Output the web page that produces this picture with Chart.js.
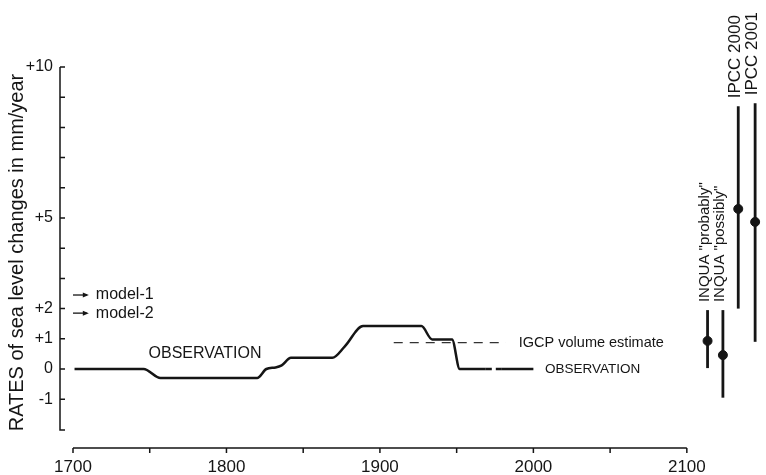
<!DOCTYPE html>
<html>
<head>
<meta charset="utf-8">
<script src="https://cdn.jsdelivr.net/npm/chart.js@4/dist/chart.umd.min.js"></script>
<style>
  html, body { margin: 0; padding: 0; background: #fff; }
  #wrap { width: 766px; height: 475px; position: relative; }
</style>
</head>
<body>
<div id="wrap"><canvas id="chart"></canvas></div>
<script>
const obsYears = [1701, 1746, 1757, 1820, 1826, 1832, 1836, 1842, 1869, 1877, 1889, 1927, 1934, 1947, 1952, 1969, 1979, 2000];
const obsRates = [0, 0, -0.3, -0.3, 0, 0.05, 0.12, 0.37, 0.37, 0.74, 1.42, 1.42, 0.98, 0.98, 0, 0, 0, 0];

// IGCP volume estimate (dashed)
const igcpYears = [1909, 1982];
const igcpRates = [0.87, 0.87];

// forecast ranges on the right
const rangeNames = ['INQUA "probably"', 'INQUA "possibly"', 'IPCC 2000', 'IPCC 2001'];
const rangeYears = [2113.5, 2123.5, 2133.5, 2144.5];
const rangeLow = [0.03, -0.95, 2.0, 0.9];
const rangeHigh = [1.95, 1.95, 8.7, 8.8];
const rangeMid = [0.93, 0.46, 5.3, 4.87];

// model markers on the left
const modelNames = ['model-1', 'model-2'];
const modelRates = [2.45, 1.85];

// axis ticks
const yTickLabels = [-1, 0, 1, 2, 5, 10];
const yMinorTicks = [-1, 0, 1, 2, 3, 4, 5, 6, 7, 8, 9, 10];
const xTickLabels = [1700, 1800, 1900, 2000, 2100];
const xMinorTicks = [1700, 1750, 1800, 1850, 1900, 1950, 2000, 2050, 2100];

const FONT = '"Liberation Sans", Arial, Helvetica, sans-serif';
const INK = '#151515';

const datasets = [
    {
        label: 'OBSERVATION',
        data: obsYears.map((yr, i) => ({ x: yr, y: obsRates[i] })),
        borderColor: INK,
        borderWidth: 2.5,
        pointRadius: 0,
        cubicInterpolationMode: 'monotone',
        segment: {
            borderDash: c => (c.p0.parsed.x >= 1969 && c.p1.parsed.x <= 1979 ? [6, 4] : undefined)
        }
    },
    {
        label: 'IGCP volume estimate',
        data: igcpYears.map((yr, i) => ({ x: yr, y: igcpRates[i] })),
        borderColor: '#333',
        borderWidth: 1.2,
        borderDash: [9, 7],
        pointRadius: 0
    }
];

rangeNames.forEach((name, i) => {
    datasets.push({
        label: name,
        data: [{ x: rangeYears[i], y: rangeLow[i] }, { x: rangeYears[i], y: rangeHigh[i] }],
        borderColor: INK,
        borderWidth: 2.8,
        pointRadius: 0
    });
});

datasets.push({
    label: 'central values',
    type: 'scatter',
    data: rangeYears.map((yr, i) => ({ x: yr, y: rangeMid[i] })),
    backgroundColor: INK,
    borderColor: INK,
    pointRadius: 4.5
});

// detached axes, annotations and labels in the style of the printed figure
const paperAxes = {
    id: 'paperAxes',
    afterDraw(chart) {
        const { ctx, scales: { x, y } } = chart;
        ctx.save();
        ctx.strokeStyle = INK;
        ctx.fillStyle = INK;
        ctx.lineWidth = 1.5;

        // y axis
        const ax = x.left - 13;
        ctx.beginPath();
        ctx.moveTo(ax, y.getPixelForValue(y.max));
        ctx.lineTo(ax, y.getPixelForValue(y.min));
        ctx.lineTo(ax + 5, y.getPixelForValue(y.min));
        yMinorTicks.forEach(v => {
            const py = y.getPixelForValue(v);
            ctx.moveTo(ax, py);
            ctx.lineTo(ax + 5, py);
        });
        ctx.stroke();

        ctx.font = '16px ' + FONT;
        ctx.textAlign = 'right';
        ctx.textBaseline = 'middle';
        yTickLabels.forEach(v => {
            const txt = v > 0 ? '+' + v : String(v);
            ctx.fillText(txt, ax - 7, y.getPixelForValue(v));
        });

        // y title
        ctx.save();
        ctx.translate(17, (y.top + y.bottom) / 2 + 4);
        ctx.rotate(-Math.PI / 2);
        ctx.textAlign = 'center';
        ctx.textBaseline = 'middle';
        ctx.font = '20px ' + FONT;
        ctx.fillText('RATES of sea level changes in mm/year', 0, 0);
        ctx.restore();

        // x axis
        const ay = y.bottom + 18;
        ctx.beginPath();
        ctx.moveTo(x.getPixelForValue(1700), ay);
        ctx.lineTo(x.getPixelForValue(2100), ay);
        xMinorTicks.forEach(v => {
            const px = x.getPixelForValue(v);
            ctx.moveTo(px, ay);
            ctx.lineTo(px, ay + 5);
        });
        ctx.stroke();

        ctx.font = '17px ' + FONT;
        ctx.textAlign = 'center';
        ctx.textBaseline = 'top';
        xTickLabels.forEach(v => ctx.fillText(String(v), x.getPixelForValue(v), ay + 11));

        // model arrows
        ctx.font = '16px ' + FONT;
        ctx.textAlign = 'left';
        ctx.textBaseline = 'middle';
        ctx.lineWidth = 1.3;
        modelNames.forEach((name, i) => {
            const py = y.getPixelForValue(modelRates[i]);
            const x0 = x.getPixelForValue(1700);
            const x1 = x.getPixelForValue(1709);
            ctx.beginPath();
            ctx.moveTo(x0, py);
            ctx.lineTo(x1, py);
            ctx.stroke();
            ctx.beginPath();
            ctx.moveTo(x1 + 2, py);
            ctx.lineTo(x1 - 4, py - 2.5);
            ctx.lineTo(x1 - 4, py + 2.5);
            ctx.closePath();
            ctx.fill();
            ctx.fillText(name, x1 + 9, py);
        });

        // curve annotations
        ctx.font = '16px ' + FONT;
        ctx.textAlign = 'center';
        ctx.fillText('OBSERVATION', x.getPixelForValue(1786), y.getPixelForValue(0.5));
        ctx.font = '14.5px ' + FONT;
        ctx.textAlign = 'left';
        ctx.fillText('IGCP volume estimate', x.getPixelForValue(1990.5), y.getPixelForValue(igcpRates[0]));
        ctx.font = '13.5px ' + FONT;
        ctx.fillText('OBSERVATION', x.getPixelForValue(2007.5), y.getPixelForValue(0));

        // range labels, rotated above each bar
        rangeNames.forEach((name, i) => {
            ctx.save();
            ctx.font = (i < 2 ? '15px ' : '17px ') + FONT;
            ctx.translate(x.getPixelForValue(rangeYears[i]) - 3, y.getPixelForValue(rangeHigh[i]) - 8);
            ctx.rotate(-Math.PI / 2);
            ctx.textAlign = 'left';
            ctx.textBaseline = 'middle';
            ctx.fillText(name, 0, 0);
            ctx.restore();
        });

        ctx.restore();
    }
};

new Chart(document.getElementById('chart'), {
    type: 'line',
    data: { datasets: datasets },
    options: {
        responsive: true,
        maintainAspectRatio: false,
        animation: false,
        clip: false,
        layout: { padding: { left: 73, right: 0, top: 67, bottom: 45 } },
        plugins: {
            legend: { display: false },
            tooltip: { enabled: false }
        },
        scales: {
            x: { type: 'linear', min: 1700, max: 2148, display: false },
            y: { type: 'linear', min: -2.02, max: 10, display: false }
        }
    },
    plugins: [paperAxes]
});
</script>
</body>
</html>
